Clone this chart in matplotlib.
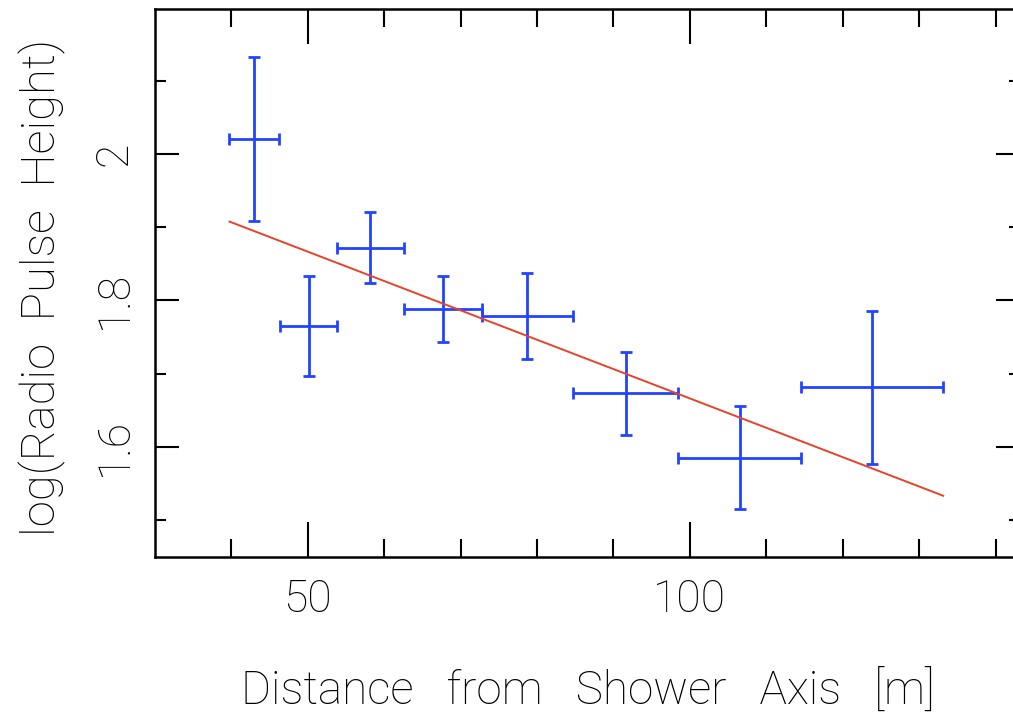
import numpy as np
import matplotlib
matplotlib.use("Agg")
import matplotlib.pyplot as plt

plt.rcParams['font.family'] = ['Roboto', 'DejaVu Sans']
plt.rcParams['font.weight'] = 'light'

# binned measurements: distance to shower axis and log of radio pulse height
dist = [43.0, 50.1, 58.2, 67.7, 78.7, 91.6, 106.5, 123.8]
dist_err = [3.27, 3.78, 4.4, 5.06, 5.96, 6.87, 8.0, 9.3]
logph = [2.021, 1.765, 1.872, 1.788, 1.779, 1.673, 1.585, 1.681]
logph_err = [0.112, 0.068, 0.048, 0.045, 0.059, 0.057, 0.070, 0.105]

# fitted line endpoints
fit_x = [39.76, 133.15]
fit_y = [1.9075, 1.533]

fig = plt.figure(figsize=(10.13, 7.15), dpi=100)
ax = fig.add_axes([155/1013, 1 - 556.5/715, (1020 - 155)/1013, (556.5 - 9)/715])

ax.errorbar(dist, logph, xerr=dist_err, yerr=logph_err, fmt='none',
            ecolor='#2244ff', elinewidth=2.0, capsize=4.3, capthick=2.0)
ax.plot(fit_x, fit_y, color='#e8432a', lw=1.4)

ax.set_xlim(30, 143.2)
ax.set_ylim(1.45, 2.198)

ax.set_xticks([50, 100])
ax.set_xticks([40, 60, 70, 80, 90, 110, 120, 130, 140], minor=True)
ax.set_yticks([1.6, 1.8, 2.0])
ax.set_yticklabels(['1.6', '1.8', '2'])
ax.set_yticks([1.5, 1.7, 1.9, 2.1], minor=True)

ax.tick_params(axis='both', which='both', direction='in', top=True, right=True,
               width=1.5, colors='black', labelsize=32)
ax.tick_params(axis='x', which='major', length=25, pad=16)
ax.tick_params(axis='x', which='minor', length=13)
ax.tick_params(axis='y', which='major', length=17, pad=14, labelrotation=90)
ax.tick_params(axis='y', which='minor', length=8)
for lbl in ax.get_yticklabels():
    lbl.set_va('center')

for sp in ax.spines.values():
    sp.set_linewidth(1.8)

fig.text(588/1013, 1 - 690/715, 'Distance   from   Shower   Axis   [m]',
         ha='center', va='center', fontsize=33)
fig.text(42/1013, 1 - 287/715, 'log(Radio  Pulse  Height)',
         ha='center', va='center', rotation=90, fontsize=34)

fig.savefig('out.png', dpi=100)
